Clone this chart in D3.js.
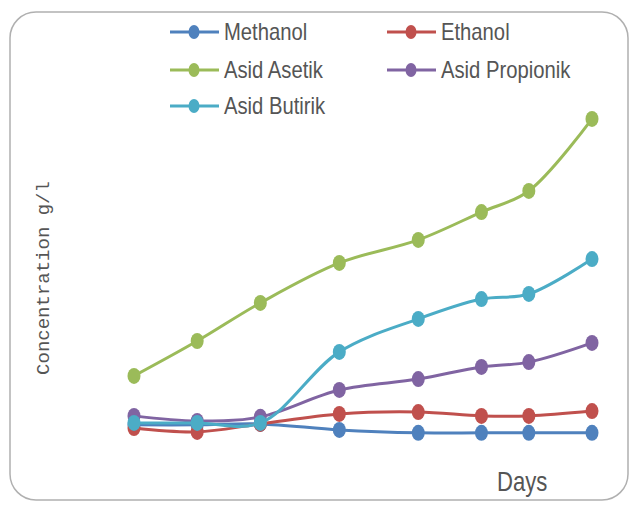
<!DOCTYPE html>
<html>
<head>
<meta charset="utf-8">
<script src="https://cdn.jsdelivr.net/npm/d3@7"></script>
<style>
  body { margin: 0; background: #fff; }
</style>
</head>
<body>
<script>
const days = [0, 4, 8, 13, 18, 22, 25, 29]
const methanol = [0.63, 0.63, 0.66, 0.47, 0.38, 0.38, 0.38, 0.38]
const ethanol = [0.53, 0.41, 0.66, 0.97, 1.03, 0.91, 0.91, 1.06]
const asidAsetik = [2.16, 3.25, 4.44, 5.69, 6.41, 7.28, 7.94, 10.19]
const asidPropionik = [0.91, 0.75, 0.88, 1.72, 2.06, 2.44, 2.59, 3.19]
const asidButirik = [0.69, 0.69, 0.69, 2.91, 3.94, 4.56, 4.72, 5.81]

const seriesNames = ['Methanol', 'Ethanol', 'Asid Asetik', 'Asid Propionik', 'Asid Butirik']
const seriesColors = ['#4F81BD', '#C0504D', '#9BBB59', '#8064A2', '#4BACC6']
const seriesValues = [methanol, ethanol, asidAsetik, asidPropionik, asidButirik]

const w = 636
const h = 506

const svg = d3.select('body')
     .append('svg')
     .attr('width', w)
     .attr('height', h)

// chart frame
svg.append('rect')
     .attr('x', 10)
     .attr('y', 12)
     .attr('width', 618)
     .attr('height', 488)
     .attr('rx', 26)
     .attr('fill', '#fff')
     .attr('stroke', '#b0b0b0')
     .attr('stroke-width', 1.5)

const xScale = d3.scaleLinear()
     .domain([0, 29])
     .range([134, 592])

const yScale = d3.scaleLinear()
     .domain([0, 10])
     .range([445, 125])

const line = d3.line()
     .x((d, i) => xScale(days[i]))
     .y(d => yScale(d))
     .curve(d3.curveCatmullRom.alpha(0.5))

seriesValues.forEach((vals, s) => {
     const g = svg.append('g').attr('class', 'series')
     g.append('path')
          .datum(vals)
          .attr('d', line)
          .attr('fill', 'none')
          .attr('stroke', seriesColors[s])
          .attr('stroke-width', 3)
     g.selectAll('ellipse')
          .data(vals)
          .enter()
          .append('ellipse')
          .attr('cx', (d, i) => xScale(days[i]))
          .attr('cy', d => yScale(d))
          .attr('rx', 6.5)
          .attr('ry', 8)
          .attr('fill', seriesColors[s])
})

// legend
const legend = svg.append('g')
     .attr('id', 'legend')

const legendPos = [[170, 32], [387, 32], [170, 70], [387, 70], [170, 106]]

seriesNames.forEach((name, s) => {
     const [lx, ly] = legendPos[s]
     legend.append('line')
          .attr('x1', lx)
          .attr('x2', lx + 49)
          .attr('y1', ly)
          .attr('y2', ly)
          .attr('stroke', seriesColors[s])
          .attr('stroke-width', 3)
     legend.append('ellipse')
          .attr('cx', lx + 24)
          .attr('cy', ly)
          .attr('rx', 5.5)
          .attr('ry', 7)
          .attr('fill', seriesColors[s])
     legend.append('text')
          .attr('transform', `translate(${lx + 54}, ${ly + 8}) scale(0.88, 1)`)
          .attr('font-family', "'Liberation Sans', sans-serif")
          .attr('font-size', 23)
          .attr('fill', '#555')
          .text(name)
})

// axis titles
svg.append('text')
     .attr('transform', 'translate(49, 278) rotate(-90)')
     .attr('text-anchor', 'middle')
     .attr('font-family', "'Liberation Mono', monospace")
     .attr('font-size', 19)
     .attr('fill', '#555')
     .text('Concentration g/l')

svg.append('text')
     .attr('transform', 'translate(497, 491) scale(0.82, 1)')
     .attr('font-family', "'Liberation Sans', sans-serif")
     .attr('font-size', 27)
     .attr('fill', '#555')
     .text('Days')
</script>
</body>
</html>
